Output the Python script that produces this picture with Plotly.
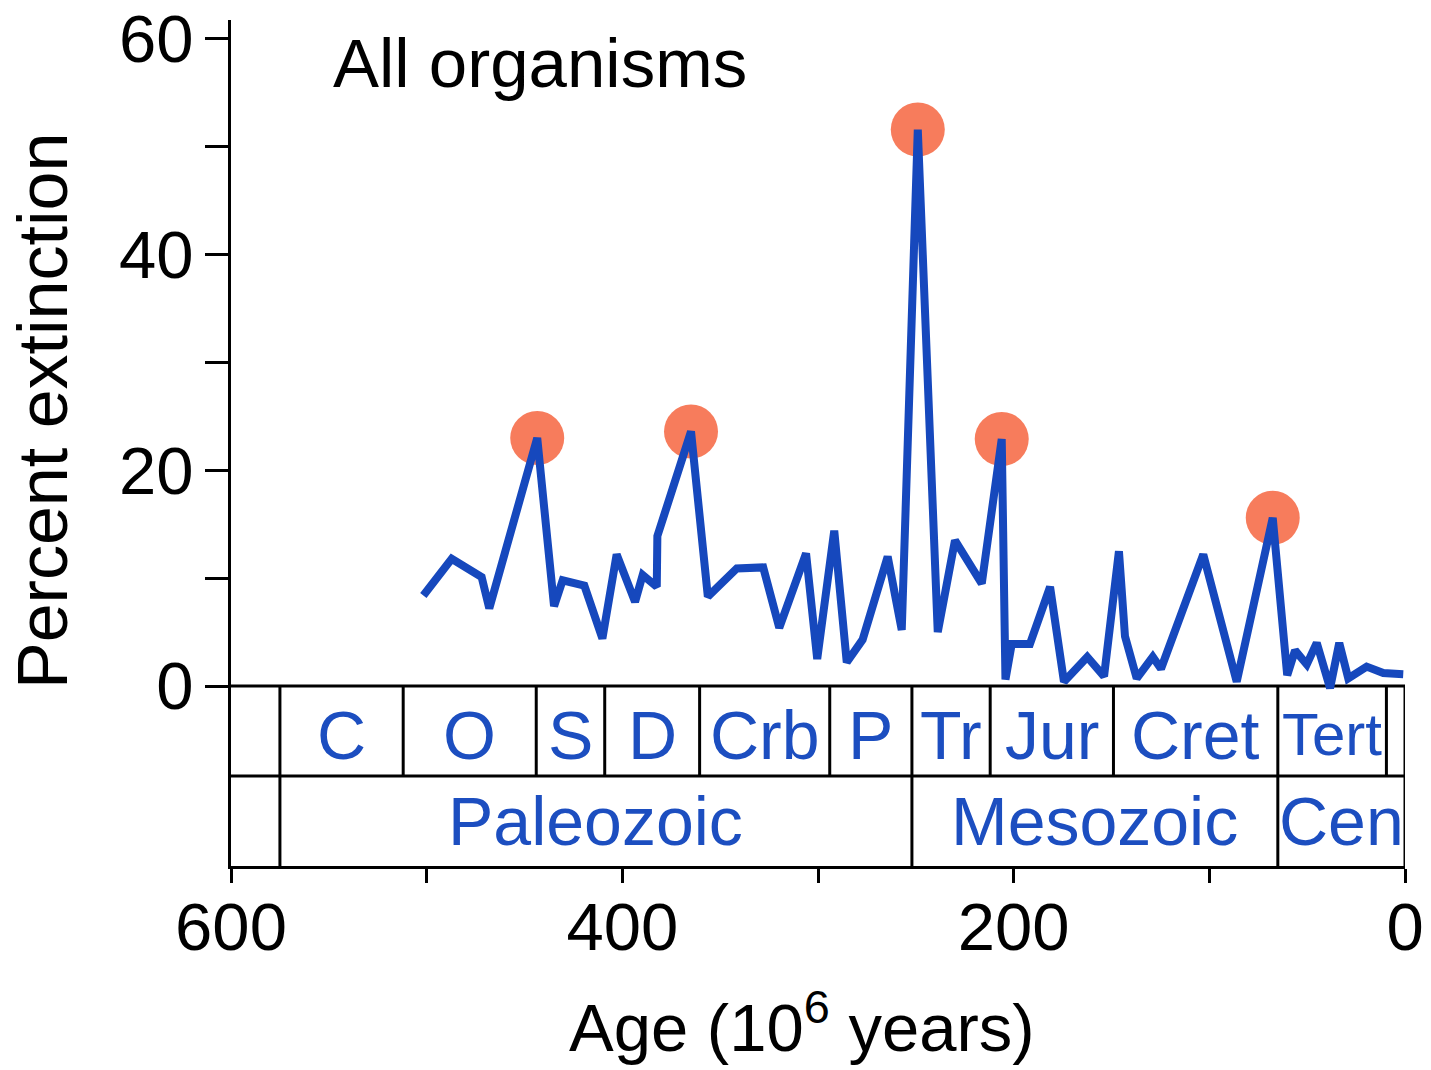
import plotly.graph_objects as go

# ---- data ----
ages = [501.7, 487.2, 471.9, 468.0, 443.5, 434.9, 430.5, 419.4, 410.2, 402.9,
        393.5, 389.6, 382.4, 382.1, 364.9, 356.3, 341.5, 328.0, 319.8, 306.1,
        300.4, 291.7, 285.3, 277.2, 264.4, 257.2, 249.0, 238.8, 230.0, 216.3,
        206.1, 204.2, 201.0, 191.7, 181.4, 174.3, 162.4, 153.8, 146.2, 143.1,
        137.1, 128.9, 124.7, 103.1, 86.0, 67.6, 60.2, 56.2, 50.2, 45.1,
        38.3, 33.6, 29.0, 19.6, 11.1, 0.9]
extinction = [8.4, 11.8, 10.1, 7.2, 23.0, 7.4, 9.8, 9.3, 4.4, 12.2,
              7.8, 10.3, 9.2, 13.9, 23.6, 8.3, 10.9, 11.0, 5.4, 12.3,
              2.5, 14.4, 2.2, 4.3, 12.0, 5.2, 51.6, 5.0, 13.5, 9.5,
              22.9, 0.6, 3.9, 3.9, 9.2, 0.4, 2.7, 0.9, 12.5, 4.6,
              0.7, 2.7, 1.6, 12.2, 0.4, 15.6, 1.0, 3.3, 2.0, 4.0,
              -0.2, 4.0, 0.7, 1.8, 1.2, 1.1]
peak_idx = [4, 14, 26, 30, 45]

period_names = ["C", "O", "S", "D", "Crb", "P", "Tr", "Jur", "Cret", "Tert"]
period_bounds = [575, 512, 444, 409, 360.5, 294, 252, 212, 149, 65, 9.5]
era_names = ["Paleozoic", "Mesozoic", "Cen"]
era_bounds = [575, 252, 65, 0]

x_tickvals = [600, 500, 400, 300, 200, 100, 0]
x_ticktext = ["600", "", "400", "", "200", "", "0"]
y_tickvals = [0, 10, 20, 30, 40, 50, 60]
y_ticktext = ["0", "", "20", "", "40", "", "60"]

FONT = "Liberation Sans, Arial, Helvetica, sans-serif"
BLUE = "#1648BD"
TXTBLUE = "#1C4EC0"
ORANGE = "#F77C5C"

Y_TOP = 61.76
Y_BOT = -16.69
Y_MID = -8.35

fig = go.Figure()
fig.add_trace(go.Scatter(
    x=[ages[i] for i in peak_idx], y=[extinction[i] for i in peak_idx],
    mode="markers", marker=dict(size=54, color=ORANGE, line=dict(width=0)),
    hoverinfo="skip", showlegend=False))
fig.add_trace(go.Scatter(
    x=ages, y=extinction, mode="lines",
    line=dict(color=BLUE, width=8), showlegend=False, cliponaxis=False))

shapes = []
lw = 3
shapes.append(dict(type="line", x0=600, x1=0, y0=0, y1=0))
shapes.append(dict(type="line", x0=600, x1=0, y0=Y_MID, y1=Y_MID))
shapes.append(dict(type="line", x0=0, x1=0, y0=0, y1=Y_BOT))
for b in period_bounds:
    shapes.append(dict(type="line", x0=b, x1=b, y0=0, y1=Y_MID))
for b in era_bounds[:-1]:
    shapes.append(dict(type="line", x0=b, x1=b, y0=Y_MID, y1=Y_BOT))
for s in shapes:
    s.update(xref="x", yref="y", layer="below", line=dict(color="black", width=lw))

annotations = []
for i, name in enumerate(period_names):
    a0 = period_bounds[i]
    a1 = period_bounds[i + 1]
    size = 68 if name != "Tert" else 60
    annotations.append(dict(x=(a0 + a1) / 2, y=-4.5, xref="x", yref="y", text=name,
                            showarrow=False, font=dict(family=FONT, size=size, color=TXTBLUE),
                            xanchor="center", yanchor="middle"))
for i, name in enumerate(era_names):
    a0 = era_bounds[i]
    a1 = era_bounds[i + 1]
    annotations.append(dict(x=(a0 + a1) / 2, y=-12.55, xref="x", yref="y", text=name,
                            showarrow=False, font=dict(family=FONT, size=68, color=TXTBLUE),
                            xanchor="center", yanchor="middle"))
annotations.append(dict(x=0.0852, y=0.948, xref="paper", yref="paper", text="All organisms",
                        showarrow=False, font=dict(family=FONT, size=69, color="black"),
                        xanchor="left", yanchor="middle"))
annotations.append(dict(x=0.486, y=-0.1857, xref="paper", yref="paper",
                        text="Age (10<sup>6</sup> years)",
                        showarrow=False, font=dict(family=FONT, size=67, color="black"),
                        xanchor="center", yanchor="middle"))
annotations.append(dict(x=-0.160, y=0.538, xref="paper", yref="paper",
                        text="Percent extinction", textangle=-90,
                        showarrow=False, font=dict(family=FONT, size=70, color="black"),
                        xanchor="center", yanchor="middle"))

fig.update_layout(
    width=1423, height=1062,
    margin=dict(l=223, r=26, t=12, b=204, autoexpand=False),
    paper_bgcolor="white", plot_bgcolor="white",
    shapes=shapes, annotations=annotations,
    font=dict(family=FONT, color="black"),
    xaxis=dict(range=[600, 0], showgrid=False, zeroline=False, showline=True,
               automargin=False, ticklabeloverflow="allow",
               linecolor="black", linewidth=3, ticks="outside", ticklen=14,
               tickwidth=3, tickcolor="black", tickvals=x_tickvals, ticktext=x_ticktext,
               tickfont=dict(family=FONT, size=67, color="black"), ticklabelstandoff=-13),
    yaxis=dict(range=[Y_BOT, Y_TOP], showgrid=False, zeroline=False, showline=True,
               automargin=False, ticklabeloverflow="allow",
               linecolor="black", linewidth=3, ticks="outside", ticklen=23,
               tickwidth=3, tickcolor="black", tickvals=y_tickvals, ticktext=y_ticktext,
               tickfont=dict(family=FONT, size=67, color="black"), ticklabelstandoff=-2),
)

fig.write_html("out.html")
